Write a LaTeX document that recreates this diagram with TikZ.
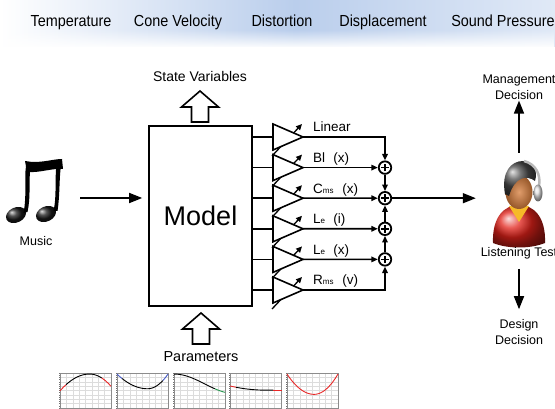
\documentclass[tikz,border=0pt]{standalone}
\usepackage{fontspec}
\setmainfont{Liberation Sans}
\newfontfamily\bandfont[FakeStretch=0.9]{Liberation Sans}
\usetikzlibrary{arrows.meta,fadings,positioning}
\definecolor{bandblue}{RGB}{186,206,236}
\definecolor{skin}{RGB}{214,124,58}
\definecolor{shirt}{RGB}{226,34,26}
\definecolor{collar}{RGB}{246,186,40}
\definecolor{gridgray}{RGB}{220,220,220}
\definecolor{plotred}{RGB}{232,40,40}
\definecolor{plotblue}{RGB}{70,90,200}
\definecolor{plotgreen}{RGB}{40,150,80}
\tikzstyle{wire}=[line width=1.6pt]
\tikzstyle{arr}=[wire,-{Triangle[length=13pt,width=10pt]}]
\tikzstyle{sarr}=[wire,-{Triangle[length=6.5pt,width=5.5pt]}]
\tikzstyle{gain}=[line width=1.3pt,-{Triangle[length=6pt,width=5.5pt]}]
\tikzstyle{sum}=[circle,draw,line width=1.8pt,fill=white,minimum size=12.5pt,inner sep=0pt,
  path picture={\draw[line width=1.6pt]
    ([xshift=-3.8pt]path picture bounding box.center) -- ([xshift=3.8pt]path picture bounding box.center)
    ([yshift=-3.8pt]path picture bounding box.center) -- ([yshift=3.8pt]path picture bounding box.center);}]
\tikzstyle{amplbl}=[font=\fontsize{13.5}{14}\selectfont,inner sep=0pt]
\tikzstyle{lbl}=[font=\fontsize{12.5}{16}\selectfont,align=center,inner sep=1pt]
\tikzstyle{toplbl}=[font=\bandfont\fontsize{16}{18}\selectfont,inner sep=0pt,anchor=base]
\tikzstyle{curve}=[line width=0.9pt,samples=40]
\newcommand{\sub}[1]{{\fontsize{8}{8}\selectfont #1}}
\newcommand{\hollowup}[1]{\draw[wire,fill=white] (#1) -- ++(18.5,16) -- ++(-10,0) -- ++(0,15)
  -- ++(-17,0) -- ++(0,-15) -- ++(-10,0) -- cycle;}
\newcommand{\thumb}[2]{%
  \begin{scope}[shift={(#1,408)},x=51pt,y=35pt]
    \foreach \g in {0.125,0.25,...,0.9}{\draw[gridgray,line width=0.4pt] (\g,0) -- (\g,1) (0,\g) -- (1,\g);}
    \foreach \g in {0,0.0625,...,1.01}{\draw[black!55,line width=0.4pt] (0,\g) -- ++(-1.5pt,0);}
    \foreach \g in {0,0.125,...,1.01}{\draw[black!55,line width=0.4pt] (\g,0) -- ++(0,-2pt);}
    \draw[black!45,line width=0.5pt] (0,0) rectangle (1,1);
    #2
  \end{scope}}

\begin{document}
\begin{tikzpicture}[x=1pt,y=-1pt,
  declare function={
    fa(\t)=(\t<0.58) ? (0.97-0.48*(\t-0.58)*(\t-0.58)/0.3364) : (0.97-0.35*(\t-0.58)*(\t-0.58)/0.1764);
    fb(\t)=(\t<0.6) ? (0.55+0.42*(\t-0.6)*(\t-0.6)/0.36) : (0.55+0.42*(\t-0.6)*(\t-0.6)/0.16);
    fc(\t)=0.97-0.28*(1-cos(150*\t));
    fd(\t)=(\t<0.7) ? (0.51+0.12*(1-\t/0.7)*(1-\t/0.7)) : 0.51;
    fe(\t)=(\t<0.53) ? (0.39+0.58*(\t-0.53)*(\t-0.53)/0.2809) : (0.39+0.58*(\t-0.53)*(\t-0.53)/0.2209);}]
  \useasboundingbox (0,0) rectangle (555,409);

  % band of measured quantities
  \shade[left color=white,right color=bandblue] (0,0) rectangle (295,47);
  \shade[left color=bandblue,right color=bandblue!45] (295,0) rectangle (555,47);
  \fill[white,path fading=north] (0,30) rectangle (555,48);
  \node[toplbl] (t1) at (71,27) {Temperature};
  \node[toplbl] (t2) at (178,27) {Cone Velocity};
  \node[toplbl] (t3) at (282,27) {Distortion};
  \node[toplbl] (t4) at (383,27) {Displacement};
  \node[toplbl] (t5) at (503,27) {Sound Pressure};

  % music
  \shade[ball color=black!90,rotate around={25:(16,215)}] (16,215) ellipse [x radius=10.5,y radius=7.5];
  \shade[ball color=black!90,rotate around={25:(46,214)}] (46,214) ellipse [x radius=10.5,y radius=7.5];
  \fill (23.5,213) .. controls (27,195) and (24,180) .. (26,166) -- (30.5,166)
    .. controls (28.5,182) and (31,196) .. (27.5,212) -- cycle;
  \fill (53.5,211) .. controls (57,195) and (54.5,180) .. (56.5,165) -- (61,165)
    .. controls (59,180) and (60,195) .. (57.5,211) -- cycle;
  \fill (25,161) .. controls (40,164) and (52,159) .. (62,159) -- (63,169)
    .. controls (52,168) and (40,173) .. (27,172) -- cycle;
  \node[lbl,font=\fontsize{12.5}{14}\selectfont] (musiclbl) at (36,241) {Music};
  \coordinate (mus) at (80,198);

  % model
  \node[draw,wire,minimum width=103pt,minimum height=180pt,font=\fontsize{27}{30}\selectfont] (model) at (200.5,216) {Model};
  \draw[arr,shorten >=6pt] (mus) -- (model.west |- mus);
  \node[font=\fontsize{14}{16}\selectfont,inner sep=1pt] (sv) at (200,76) {State Variables};
  \coordinate (svtip) at (200,91);
  \hollowup{svtip}
  \coordinate (partip) at (201,313);
  \hollowup{partip}
  \node[font=\fontsize{14.5}{16}\selectfont,inner sep=1pt] (par) at (201,357) {Parameters};

  % amplifiers
  \foreach \i/\lab in {1/Linear,2/{Bl\hspace{0.6em}(x)},3/{C\sub{ms}\hspace{0.65em}(x)},
      4/{L\sub{e}\hspace{0.6em}(i)},5/{L\sub{e}\hspace{0.6em}(x)},6/{R\sub{ms}\hspace{0.65em}(v)}}{
    \pgfmathsetmacro\yc{137+30.6*(\i-1)}
    \coordinate (a\i) at (273,\yc);
    \coordinate (o\i) at (303,\yc);
    \draw[gain] ([shift={(-1,19)}]a\i) -- ([shift={(29,-13)}]a\i);
    \draw[wire,fill=white] ([shift={(0,-13)}]a\i) -- (o\i) -- ([shift={(0,13)}]a\i) -- cycle;
    \draw[wire] (model.east |- a\i) -- (a\i);
    \node[amplbl,anchor=base west] (l\i) at ([shift={(10,-5)}]o\i) {\lab};
  }

  % summing points
  \node[sum] (s2) at (385,167.6) {};
  \node[sum] (s3) at (385,198.2) {};
  \node[sum] (s4) at (385,228.8) {};
  \node[sum] (s5) at (385,259.4) {};
  \draw[sarr] (o1) -| (s2);
  \draw[sarr] (o2) -- (s2);
  \draw[sarr] (o3) -- (s3);
  \draw[sarr] (o4) -- (s4);
  \draw[sarr] (o5) -- (s5);
  \draw[sarr] (o6) -| (s5);
  \draw[sarr] (s2) -- (s3);
  \draw[sarr] (s4) -- (s3);
  \draw[sarr] (s5) -- (s4);

  % listener
  \node[minimum width=86pt,minimum height=80pt,inner sep=0pt] (listener) at (519,200) {};
  \draw[arr] (s3) -- (listener.west |- s3);
  \shade[ball color=shirt] (493,243) .. controls (492,216) and (505,205) .. (519,205)
    .. controls (533,205) and (546,216) .. (545,243) .. controls (530,249) and (508,249) .. (493,243) -- cycle;
  \fill[collar] (509,206) -- (529,206) -- (519,222) -- cycle;
  \shade[inner color=skin!75!white,outer color=skin!70!black] (519,192) ellipse [x radius=13.5,y radius=17];
  \shade[ball color=black!70] (505,194) .. controls (501,172) and (511,161) .. (523,161)
    .. controls (534,162) and (538,171) .. (535,181) .. controls (527,175) and (515,176) .. (509,196) -- cycle;
  \draw[gray!55,line width=2.5pt] (524,161) .. controls (536,164) and (541,175) .. (539,186);
  \shade[ball color=gray!25] (538,193) ellipse [x radius=4.5,y radius=8.5];
  \node[lbl] (lt) at (519,253) {Listening Test};
  \node[lbl] (mgmt) at (519,87) {Management\\Decision};
  \node[lbl] (design) at (519,332) {Design\\Decision};
  \coordinate (up0) at (519,153);
  \coordinate (dn0) at (519,269);
  \draw[arr] (up0) -- (mgmt.south);
  \draw[arr,shorten >=9pt] (dn0) -- (design.north);

  % parameter curves
  \thumb{60}{\draw[curve,plotred,domain=0:0.12] plot (\x,{fa(\x)});
    \draw[curve,domain=0.12:0.82] plot (\x,{fa(\x)});
    \draw[curve,plotred,domain=0.82:1] plot (\x,{fa(\x)});}
  \thumb{117}{\draw[curve,plotblue,domain=0:0.1] plot (\x,{fb(\x)});
    \draw[curve,domain=0.1:0.9] plot (\x,{fb(\x)});
    \draw[curve,plotblue,domain=0.9:1] plot (\x,{fb(\x)});}
  \thumb{174}{\draw[curve,domain=0:0.8] plot (\x,{fc(\x)});
    \draw[curve,plotgreen,domain=0.8:1] plot (\x,{fc(\x)});}
  \thumb{230}{\draw[curve,plotred,domain=0:0.12] plot (\x,{fd(\x)});
    \draw[curve,domain=0.12:0.85] plot (\x,{fd(\x)});
    \draw[curve,plotred,domain=0.85:1] plot (\x,{fd(\x)});}
  \thumb{287}{\draw[curve,plotred,domain=0:1] plot (\x,{fe(\x)});}
\end{tikzpicture}
\end{document}
